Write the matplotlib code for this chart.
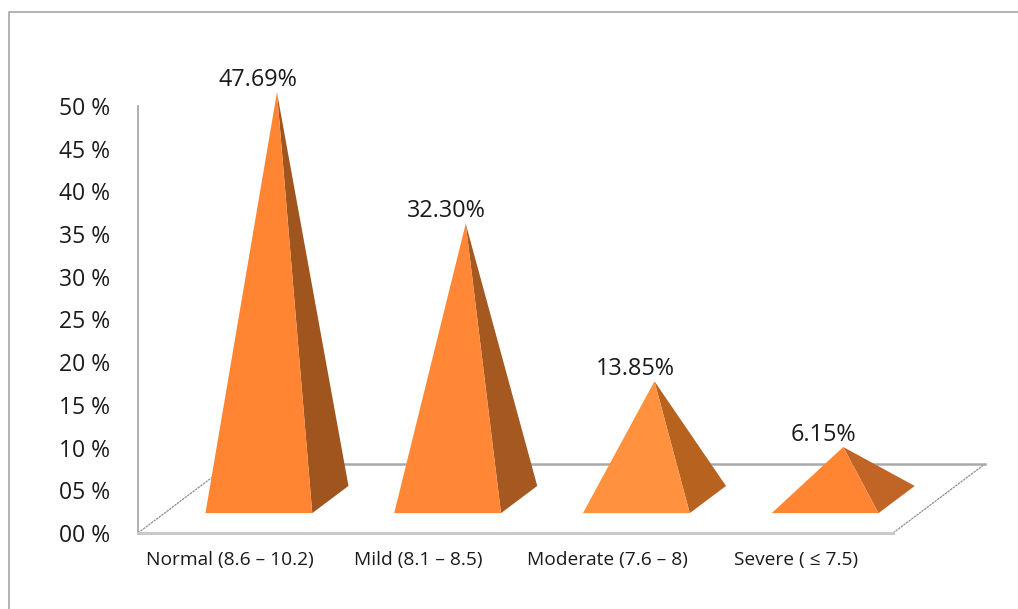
import matplotlib
matplotlib.use("Agg")
import matplotlib.pyplot as plt
from matplotlib.lines import Line2D
from matplotlib.patches import Polygon
from matplotlib.transforms import ScaledTranslation

categories = ["Normal (8.6 – 10.2)", "Mild (8.1 – 8.5)", "Moderate (7.6 – 8)", "Severe ( ≤ 7.5)"]
values = [47.69, 32.30, 13.85, 6.15]
value_labels = ["47.69%", "32.30%", "13.85%", "6.15%"]
y_ticks = [0, 5, 10, 15, 20, 25, 30, 35, 40, 45, 50]
y_tick_labels = ["00 %", "05 %", "10 %", "15 %", "20 %", "25 %", "30 %", "35 %", "40 %", "45 %", "50 %"]

front_colors = ["#FF8533", "#FF8736", "#FF913F", "#FF8533"]
side_colors = ["#A0551E", "#A5581F", "#B8621F", "#C06526"]

# oblique projection of the chart floor, in data units
DEPTH_X = 0.487
DEPTH_Y = 8.08
HALF_W = 0.283
DEPTH_C = 0.485
DEPTH_H = 0.197
GRAY = "#a9a9a9"


def project(x, d, v=0):
    return x + d * DEPTH_X, v + d * DEPTH_Y


plt.rcParams["font.family"] = ["Open Sans", "DejaVu Sans"]

fig = plt.figure(figsize=(10.18, 6.09), dpi=100)
ax = fig.add_axes([138 / 1018, 1 - 533 / 609, (893 - 138) / 1018, (533 - 106) / 609])
ax.set_xlim(-0.5, 3.5)
ax.set_ylim(0, 50)
ax.patch.set_visible(False)

for side in ["top", "right"]:
    ax.spines[side].set_visible(False)
ax.spines["left"].set_color(GRAY)
ax.spines["left"].set_linewidth(1.3)
ax.spines["bottom"].set_color("#c9c9c9")
ax.spines["bottom"].set_linewidth(2.2)

ax.set_xticks(range(len(categories)))
ax.set_xticklabels(categories, fontsize=13.8, color="#1a1a1a")
ax.set_yticks(y_ticks)
ax.set_yticklabels(y_tick_labels, fontsize=16.5, color="#1a1a1a")
ax.tick_params(axis="x", length=0, pad=13)
ax.tick_params(axis="y", length=0, pad=20)

# category names sit a little left of the slot centres
nudge = ScaledTranslation(-2.5 / 100, 0, fig.dpi_scale_trans)
for label in ax.get_xticklabels():
    label.set_transform(label.get_transform() + nudge)

# floor edges behind the pyramids
ax.plot(*zip(project(-0.5, 0), project(-0.5, 1)), color="#8f8f8f", lw=0.9, ls=(0, (2, 0.6)), clip_on=False, zorder=1)
ax.plot(*zip(project(3.5, 0), project(3.5, 1)), color="#8f8f8f", lw=0.9, ls=(0, (2, 0.6)), clip_on=False, zorder=1)
ax.plot(*zip(project(-0.5, 1), project(3.5, 1)), color=GRAY, lw=1.8, clip_on=False, zorder=1)

for i, v in enumerate(values):
    apex = project(i, DEPTH_C, v)
    front_l = project(i - HALF_W, DEPTH_C - DEPTH_H)
    front_r = project(i + HALF_W, DEPTH_C - DEPTH_H)
    back_r = project(i + HALF_W, DEPTH_C + DEPTH_H)
    ax.add_patch(Polygon([front_r, back_r, apex], closed=True, fc=side_colors[i], ec="none", clip_on=False, zorder=3))
    ax.add_patch(Polygon([front_l, front_r, apex], closed=True, fc=front_colors[i], ec="none", clip_on=False, zorder=3))
    ax.annotate(value_labels[i], apex, xytext=(-14, 9), textcoords="offset points",
                ha="center", va="center", fontsize=16.8, color="#1a1a1a", zorder=4, annotation_clip=False)

# outer chart border, open on the right and at the bottom
fig.add_artist(Line2D([9 / 1018, 9 / 1018, 1], [0, 1 - 12 / 609, 1 - 12 / 609], color="#a6a6a6", lw=1.2))

fig.savefig("out.png", dpi=100)
